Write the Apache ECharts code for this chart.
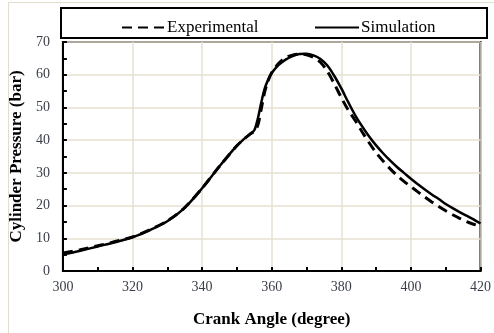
<!DOCTYPE html>
<html><head><meta charset="utf-8">
<script src="https://cdn.jsdelivr.net/npm/echarts@6/dist/echarts.min.js"></script>
<style>html,body{margin:0;padding:0;background:#fff}#c{width:494px;height:333px}</style>
</head><body><div id="c"></div>
<script>
var simAngle = [300,305,310,315,320,325,330,335,340,345,350,352,354,355,356,357,358,359,360,362,364,366,368,370,372,374,376,378,380,382,384,386,388,390,392,394,396,398,400,402,404,406,408,410,412,414,416,418,420];
var simPressure = [5.0,6.2,7.5,8.8,10.3,12.5,15.2,19.3,25.3,32.0,38.3,40.3,42.1,43.0,46.5,51.5,55.8,58.5,60.5,63.0,64.6,65.7,66.3,66.4,65.9,64.8,62.8,59.6,55.8,51.6,47.6,44.2,41.1,38.4,36.0,33.8,31.8,30.0,28.2,26.5,24.9,23.4,22.0,20.5,19.2,18.0,16.9,15.8,14.5];
var expAngle = [300,305,310,315,320,325,330,335,340,345,350,352,354,355,356,357,358,359,360,362,364,366,368,370,372,374,376,378,380,382,384,386,388,390,392,394,396,398,400,402,404,406,408,410,412,414,416,418,420];
var expPressure = [5.5,6.5,7.7,9.0,10.4,12.6,15.3,19.4,25.3,32.0,38.3,40.3,42.0,42.7,44.5,49.5,54.8,58.2,60.6,63.5,65.2,66.0,66.3,66.1,65.3,63.8,61.0,57.2,53.0,49.2,46.0,42.5,39.2,36.2,33.6,31.3,29.2,27.4,25.8,24.2,22.6,21.1,19.7,18.4,17.2,16.1,15.1,14.3,13.7];
var xTicks = [300,320,340,360,380,400,420];
var yTicks = [0,10,20,30,40,50,60,70];

function pairs(a,b){return a.map(function(v,i){return [v,b[i]];});}
var chart = echarts.init(document.getElementById('c'));
var serif = '"Liberation Serif","Times New Roman",serif';
chart.setOption({
  animation:false,
  backgroundColor:'#fff',
  graphic:[
    {type:'rect',shape:{x:8.5,y:2.5,width:500,height:340},style:{fill:'none',stroke:'#e2ddcc',lineWidth:1},z:-10},
    {type:'rect',shape:{x:61,y:8,width:426,height:30},style:{fill:'#fff',stroke:'#000',lineWidth:2},z:-5}
  ],
  legend:[
    {data:['Experimental'],left:116,top:14,itemWidth:42,itemHeight:14,itemStyle:{opacity:0},
     textStyle:{fontFamily:serif,fontSize:17,color:'#000',padding:[0,0,0,-2]}},
    {data:['Simulation'],left:309,top:14,itemWidth:44,itemHeight:14,itemStyle:{opacity:0},
     textStyle:{fontFamily:serif,fontSize:17,color:'#000',padding:[0,0,0,-3]}}
  ],
  grid:{left:62,right:6,top:42,bottom:52,show:true,borderColor:'#000',borderWidth:2,backgroundColor:'transparent'},
  xAxis:{type:'value',min:xTicks[0],max:xTicks[xTicks.length-1],interval:20,
    name:'Crank Angle (degree)',nameLocation:'middle',nameGap:40,
    nameTextStyle:{fontFamily:serif,fontSize:17,fontWeight:'bold',color:'#000'},
    axisLine:{show:true,lineStyle:{color:'#000',width:2}},
    axisTick:{show:true,inside:true,length:4,lineStyle:{color:'#000',width:2}},
    minorTick:{show:true,splitNumber:2,length:4,lineStyle:{color:'#000',width:2}},
    axisLabel:{fontFamily:serif,fontSize:14,color:'#3a3f4a',margin:9},
    splitLine:{show:true,lineStyle:{color:'#e6e1cf',width:1.5}}},
  yAxis:{type:'value',min:yTicks[0],max:yTicks[yTicks.length-1],interval:10,
    name:'Cylinder Pressure (bar)',nameLocation:'middle',nameGap:33,
    nameTextStyle:{fontFamily:serif,fontSize:17,fontWeight:'bold',color:'#000'},
    axisLine:{show:true,lineStyle:{color:'#000',width:2}},
    axisTick:{show:true,inside:true,length:4,lineStyle:{color:'#000',width:2}},
    minorTick:{show:true,splitNumber:2,length:4,lineStyle:{color:'#000',width:2}},
    axisLabel:{fontFamily:serif,fontSize:14,color:'#3a3f4a',margin:13},
    splitLine:{show:true,lineStyle:{color:'#e6e1cf',width:1.5}}},
  series:[
    {name:'Experimental',type:'line',data:pairs(expAngle,expPressure),symbol:'none',smooth:0.3,
     lineStyle:{color:'#000',width:3,type:[10,6]},itemStyle:{color:'#000'},z:3},
    {name:'Simulation',type:'line',data:pairs(simAngle,simPressure),symbol:'none',smooth:0.3,
     lineStyle:{color:'#000',width:2.5,type:'solid'},itemStyle:{color:'#000'},z:4}
  ]
});
</script></body></html>
